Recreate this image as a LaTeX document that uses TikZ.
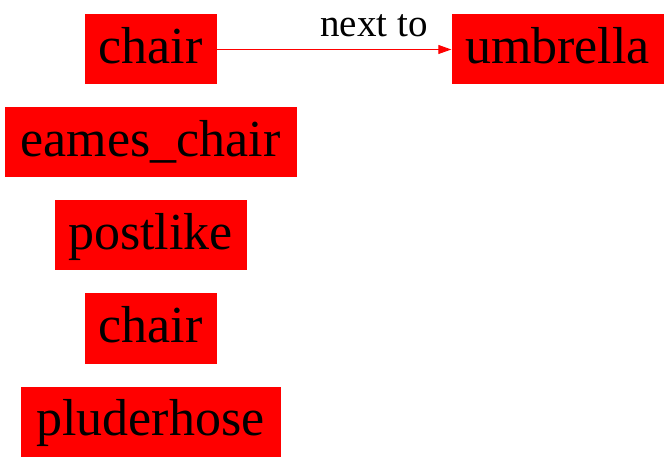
\documentclass[tikz,border=0pt]{standalone}
\usepackage{fontspec}
\setmainfont{Liberation Serif}
\newfontfamily\timesf{Liberation Serif}
\usetikzlibrary{arrows.meta}
\tikzset{
  obj/.style={fill=red, draw=none, inner sep=0pt, text=black,
    font=\timesf\fontsize{52}{52}\selectfont, text height=36pt, text depth=8pt,
    minimum height=70pt},
  rel/.style={draw=red, line width=0.9pt, -{Triangle[length=13pt,width=9pt]}},
  rellabel/.style={font=\timesf\fontsize{39}{39}\selectfont, text=black, inner sep=0pt}
}
\begin{document}
\begin{tikzpicture}[x=1pt,y=1pt]
\useasboundingbox (0,0) rectangle (668,463);
\node[obj, minimum width=132pt] (chair) at (150.5,413.5) {chair};
\node[obj, minimum width=212pt] (umbrella) at (557.5,413.5) {umbrella};
\node[obj, minimum width=292pt] (eames) at (150.5,320.5) {eames\_chair};
\node[obj, minimum width=192pt] (postlike) at (150.5,227.5) {postlike};
\node[obj, minimum width=132pt] (chairb) at (150.5,134.5) {chair};
\node[obj, minimum width=260pt] (pluder) at (150.5,41.5) {pluderhose};
\draw[rel] (chair.east) -- node[rellabel, pos=0.67, anchor=base, yshift=12.5pt] {next to} (umbrella.west);
\end{tikzpicture}
\end{document}
